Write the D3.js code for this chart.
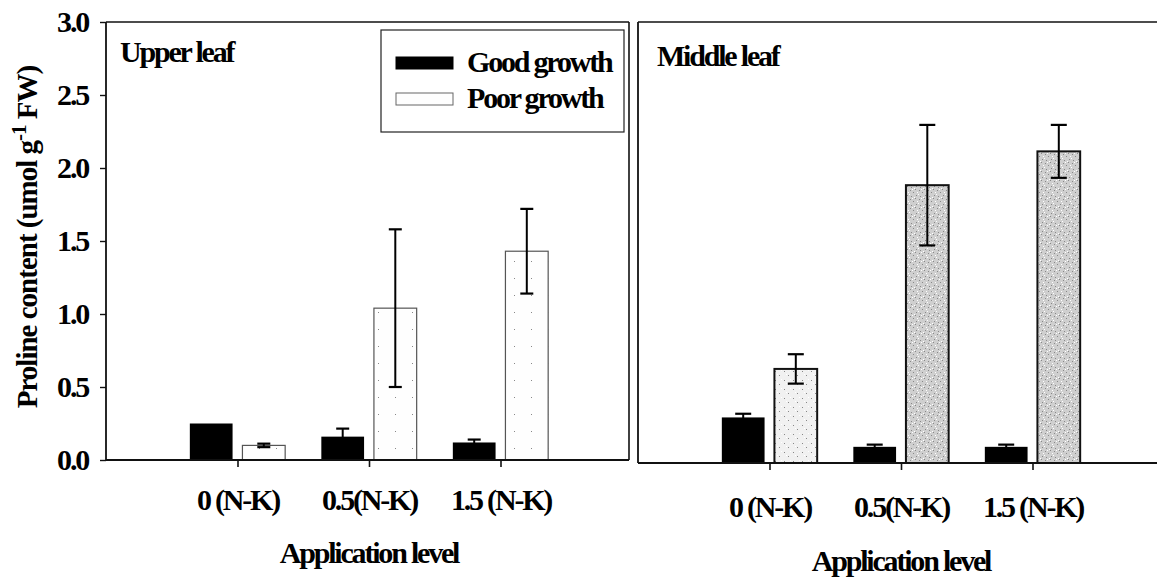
<!DOCTYPE html>
<html>
<head>
<meta charset="utf-8">
<script src="https://cdn.jsdelivr.net/npm/d3@7"></script>
<style>
  html, body { margin: 0; padding: 0; background: #fff; }
  svg { display: block; }
  text { font-family: "Liberation Serif", "Times New Roman", serif; font-weight: bold; fill: #000; }
</style>
</head>
<body>
<svg id="chart" width="1157" height="577"></svg>
<script>
// ---- data ----
const categories = ["0 (N-K)", "0.5(N-K)", "1.5 (N-K)"];
const seriesNames = ["Good growth", "Poor growth"];
const yTicks = [0.0, 0.5, 1.0, 1.5, 2.0, 2.5, 3.0];

const upperGood = [0.25, 0.16, 0.12];
const upperGoodErr = [0.0, 0.055, 0.02];
const upperPoor = [0.10, 1.04, 1.43];
const upperPoorErr = [0.012, 0.54, 0.29];

const middleGood = [0.31, 0.11, 0.11];
const middleGoodErr = [0.025, 0.015, 0.015];
const middlePoor = [0.64, 1.89, 2.12];
const middlePoorErr = [0.10, 0.41, 0.18];

// ---- drawing ----
const svg = d3.select("#chart");
const defs = svg.append("defs");

function stipple(id, size, base, dots, lights) {
  const p = defs.append("pattern").attr("id", id)
    .attr("patternUnits", "userSpaceOnUse").attr("width", size).attr("height", size);
  p.append("rect").attr("width", size).attr("height", size).attr("fill", base);
  dots.forEach(([x, y]) => p.append("rect").attr("x", x).attr("y", y).attr("width", 1).attr("height", 1).attr("fill", "#888"));
  (lights || []).forEach(([x, y]) => p.append("rect").attr("x", x).attr("y", y).attr("width", 1).attr("height", 1).attr("fill", "#fff"));
}
stipple("lightStip", 17, "#fefefe", [[4, 6]]);
stipple("paleStip", 9, "#f1f1f1", [[1, 2], [5, 6]], [[3, 5], [7, 1]]);
stipple("grayStip", 9, "#cfcfcf", [[1, 1], [4, 3], [7, 6], [2, 7], [6, 0]], [[3, 0], [0, 5], [5, 8], [8, 3]]);

const font = 30;
const ls = "-2.2px";

function panel(cfg) {
  const x = d3.scaleLinear().domain([0, 4]).range([cfg.x0, cfg.x0 + 526]);
  const y = d3.scaleLinear().domain([0, 3]).range([cfg.yBase, cfg.yTop]);
  const g = svg.append("g");
  const unit = x(1) - x(0);
  const bw = 0.325 * unit;
  const off = 0.2 * unit;

  // frame lines
  g.append("line").attr("x1", cfg.x0).attr("x2", cfg.xRight).attr("y1", cfg.yTop).attr("y2", cfg.yTop)
    .attr("stroke", "#111").attr("stroke-width", 1.6);
  g.append("line").attr("x1", cfg.x0).attr("x2", cfg.x0).attr("y1", cfg.yTop).attr("y2", cfg.yBase)
    .attr("stroke", "#111").attr("stroke-width", 1.8);
  if (cfg.rightBorder) {
    g.append("line").attr("x1", cfg.xRight).attr("x2", cfg.xRight).attr("y1", cfg.yTop).attr("y2", cfg.yBase)
      .attr("stroke", "#111").attr("stroke-width", 1.6);
  }

  // bars
  const good = cfg.good, poor = cfg.poor;
  g.selectAll(".gb").data(good).join("rect")
    .attr("x", (d, i) => x(i + 1) - off - bw / 2)
    .attr("y", d => y(d)).attr("width", bw).attr("height", d => y(0) - y(d))
    .attr("fill", "#000");
  g.selectAll(".pb").data(poor).join("rect")
    .attr("x", (d, i) => x(i + 1) + off - bw / 2)
    .attr("y", d => y(d)).attr("width", bw).attr("height", d => y(0) - y(d))
    .attr("fill", (d, i) => cfg.poorFill(i))
    .attr("stroke", cfg.poorStroke).attr("stroke-width", cfg.poorStrokeW);

  // error bars
  function errs(vals, es, dx, cap) {
    vals.forEach((v, i) => {
      if (!es[i]) return;
      const cx = x(i + 1) + dx;
      g.append("line").attr("x1", cx).attr("x2", cx).attr("y1", y(v + es[i])).attr("y2", y(v - es[i]))
        .attr("stroke", "#000").attr("stroke-width", 2);
      [v + es[i], v - es[i]].forEach(e => g.append("line")
        .attr("x1", cx - cap / 2).attr("x2", cx + cap / 2).attr("y1", y(e)).attr("y2", y(e))
        .attr("stroke", "#000").attr("stroke-width", 2.2));
    });
  }
  errs(good, cfg.goodErr, -off, cfg.cap);
  errs(poor, cfg.poorErr, off, cfg.cap);

  // x axis
  g.append("line").attr("x1", cfg.x0).attr("x2", cfg.xRight).attr("y1", y(0)).attr("y2", y(0))
    .attr("stroke", "#111").attr("stroke-width", 2);
  const xa = g.append("g").attr("transform", `translate(0,${y(0)})`)
    .call(d3.axisBottom(x).tickValues([1, 2, 3]).tickFormat((d) => categories[d - 1]).tickSize(7).tickPadding(cfg.labelPad));
  xa.select(".domain").remove();
  xa.selectAll(".tick line").attr("stroke", "#111").attr("stroke-width", 1.6);
  xa.selectAll(".tick text").attr("font-size", font).attr("letter-spacing", ls)
    .attr("font-family", "Liberation Serif, Times New Roman, serif").attr("font-weight", "bold").attr("fill", "#000");

  // axis title
  g.append("text").attr("x", x(2)).attr("y", cfg.titleY).attr("text-anchor", "middle")
    .attr("font-size", font).attr("letter-spacing", ls).text("Application level");

  // panel label
  g.append("text").attr("x", cfg.labelX).attr("y", cfg.labelY).attr("font-size", font)
    .attr("letter-spacing", ls).text(cfg.label);

  if (cfg.yAxis) {
    const ya = g.append("g").attr("transform", `translate(${cfg.x0},0)`)
      .call(d3.axisLeft(y).tickValues(yTicks).tickFormat(d3.format(".1f")).tickSize(6).tickPadding(12));
    ya.select(".domain").remove();
    ya.selectAll(".tick line").attr("stroke", "#111").attr("stroke-width", 1.4);
    ya.selectAll(".tick text").attr("font-size", font).attr("letter-spacing", ls)
      .attr("font-family", "Liberation Serif, Times New Roman, serif").attr("font-weight", "bold").attr("fill", "#000");
  }
  return { x, y };
}

panel({
  x0: 106, xRight: 629, yTop: 22, yBase: 460, rightBorder: true,
  good: upperGood, goodErr: upperGoodErr, poor: upperPoor, poorErr: upperPoorErr,
  poorFill: () => "url(#lightStip)", poorStroke: "#555", poorStrokeW: 1.2, cap: 13,
  labelPad: 22, titleY: 563, label: "Upper leaf", labelX: 120, labelY: 62, yAxis: true
});

panel({
  x0: 638, xRight: 1157, yTop: 22, yBase: 463, rightBorder: false,
  good: middleGood, goodErr: middleGoodErr, poor: middlePoor, poorErr: middlePoorErr,
  poorFill: (i) => i === 0 ? "url(#paleStip)" : "url(#grayStip)", poorStroke: "#111", poorStrokeW: 2, cap: 16,
  labelPad: 26, titleY: 571, label: "Middle leaf", labelX: 657, labelY: 66, yAxis: false
});

// y axis title
const yt = svg.append("text")
  .attr("transform", "translate(37,237) rotate(-90)")
  .attr("text-anchor", "middle").attr("font-size", 29).attr("letter-spacing", "-1px");
yt.append("tspan").text("Proline content (umol g");
yt.append("tspan").attr("dy", -11).attr("font-size", 21).text("-1");
yt.append("tspan").attr("dy", 11).text(" FW)");

// legend
const lg = svg.append("g");
lg.append("rect").attr("x", 381).attr("y", 30).attr("width", 243).attr("height", 102)
  .attr("fill", "#fff").attr("stroke", "#222").attr("stroke-width", 1.2);
const legendFills = ["#000", "url(#lightStip)"];
const legendStroke = ["#000", "#666"];
seriesNames.forEach((s, i) => {
  const cy = 63 + i * 36;
  lg.append("rect").attr("x", 396).attr("y", cy - 6).attr("width", 57).attr("height", 12)
    .attr("fill", legendFills[i]).attr("stroke", legendStroke[i]).attr("stroke-width", 1);
  lg.append("text").attr("x", 467).attr("y", cy + 9).attr("font-size", font).attr("letter-spacing", ls).text(s);
});
</script>
</body>
</html>
